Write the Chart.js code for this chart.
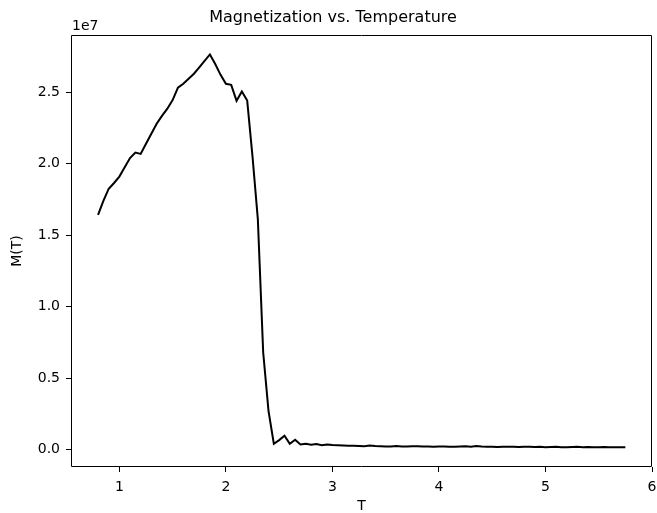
<!DOCTYPE html>
<html>
<head>
<meta charset="utf-8">
<script src="https://cdn.jsdelivr.net/npm/chart.js@4/dist/chart.umd.min.js"></script>
<style>
  html, body { margin: 0; padding: 0; background: #ffffff; }
  #wrap { width: 657px; height: 513px; }
</style>
</head>
<body>
<div id="wrap"><canvas id="c" width="657" height="513"></canvas></div>
<script>
// Temperatures (T)
const temperatures = [
  0.80, 0.85, 0.90, 0.95, 1.00, 1.05, 1.10, 1.15, 1.20, 1.25,
  1.30, 1.35, 1.40, 1.45, 1.50, 1.55, 1.60, 1.65, 1.70, 1.75,
  1.80, 1.85, 1.90, 1.95, 2.00, 2.05, 2.10, 2.15, 2.20, 2.25,
  2.30, 2.35, 2.40, 2.45, 2.50, 2.55, 2.60, 2.65, 2.70, 2.75,
  2.80, 2.85, 2.90, 2.95, 3.00, 3.05, 3.10, 3.15, 3.20, 3.25,
  3.30, 3.35, 3.40, 3.45, 3.50, 3.55, 3.60, 3.65, 3.70, 3.75,
  3.80, 3.85, 3.90, 3.95, 4.00, 4.05, 4.10, 4.15, 4.20, 4.25,
  4.30, 4.35, 4.40, 4.45, 4.50, 4.55, 4.60, 4.65, 4.70, 4.75,
  4.80, 4.85, 4.90, 4.95, 5.00, 5.05, 5.10, 5.15, 5.20, 5.25,
  5.30, 5.35, 5.40, 5.45, 5.50, 5.55, 5.60, 5.65, 5.70, 5.75
];

// Magnetization M(T)
const magnetization = [
  1.642e7, 1.740e7, 1.825e7, 1.865e7, 1.910e7, 1.975e7, 2.040e7, 2.078e7, 2.069e7, 2.140e7,
  2.210e7, 2.280e7, 2.335e7, 2.385e7, 2.445e7, 2.533e7, 2.560e7, 2.595e7, 2.630e7, 2.675e7,
  2.720e7, 2.765e7, 2.698e7, 2.622e7, 2.559e7, 2.552e7, 2.440e7, 2.505e7, 2.442e7, 2.050e7,
  1.610e7, 0.680e7, 0.270e7, 0.040e7, 0.065e7, 0.096e7, 0.040e7, 0.068e7, 0.035e7, 0.040e7,
  0.033e7, 0.038e7, 0.030e7, 0.034e7, 0.031e7, 0.030e7, 0.028e7, 0.025e7, 0.026e7, 0.024e7,
  0.022e7, 0.028e7, 0.024e7, 0.022e7, 0.020e7, 0.021e7, 0.024e7, 0.021e7, 0.020e7, 0.022e7,
  0.023e7, 0.021e7, 0.020e7, 0.019e7, 0.021e7, 0.020e7, 0.019e7, 0.018e7, 0.020e7, 0.022e7,
  0.019e7, 0.024e7, 0.020e7, 0.018e7, 0.019e7, 0.017e7, 0.018e7, 0.019e7, 0.018e7, 0.017e7,
  0.019e7, 0.018e7, 0.017e7, 0.018e7, 0.016e7, 0.017e7, 0.018e7, 0.016e7, 0.015e7, 0.017e7,
  0.018e7, 0.016e7, 0.017e7, 0.016e7, 0.015e7, 0.017e7, 0.016e7, 0.016e7, 0.015e7, 0.016e7
];

const xTickValues = [1, 2, 3, 4, 5, 6];
const yTickValues = [0, 0.5e7, 1.0e7, 1.5e7, 2.0e7, 2.5e7];

const titleText = 'Magnetization vs. Temperature';
const xLabel = 'T';
const yLabel = 'M(T)';
const offsetText = '1e7';

const FONT = 'DejaVu Sans';
const PAD_LEFT = 14;

const boxPlugin = {
  id: 'boxAndOffset',
  afterDraw(chart) {
    const { ctx, chartArea } = chart;
    const l = Math.round(chartArea.left) + 0.5;
    const t = Math.round(chartArea.top) + 0.5;
    const r = Math.round(chartArea.right) - 0.5;
    const b = Math.round(chartArea.bottom) - 0.5;
    ctx.save();
    ctx.strokeStyle = '#000';
    ctx.lineWidth = 1;
    ctx.beginPath();
    ctx.moveTo(l, t); ctx.lineTo(r, t); ctx.lineTo(r, b); ctx.lineTo(l, b); ctx.closePath();
    ctx.stroke();
    ctx.fillStyle = '#000';
    ctx.font = '14px "' + FONT + '"';
    ctx.textAlign = 'left';
    ctx.textBaseline = 'alphabetic';
    ctx.fillText(offsetText, chartArea.left + 1, chartArea.top - 5);
    ctx.restore();
  }
};

new Chart(document.getElementById('c'), {
  type: 'line',
  data: {
    datasets: [{
      data: temperatures.map((t, i) => ({ x: t, y: magnetization[i] })),
      borderColor: '#000000',
      borderWidth: 2,
      pointRadius: 0,
      tension: 0,
      fill: false
    }]
  },
  options: {
    responsive: false,
    animation: false,
    layout: { padding: { left: PAD_LEFT, right: 5, top: 0, bottom: 0 } },
    plugins: {
      legend: { display: false },
      tooltip: { enabled: false },
      title: {
        display: true,
        text: titleText,
        color: '#000',
        font: { family: FONT, size: 16, weight: 'normal', lineHeight: 1.2 },
        padding: { top: 8, bottom: 7.8 }
      }
    },
    scales: {
      x: {
        type: 'linear',
        min: 0.546,
        max: 6.0,
        afterFit(scale) { scale.height = 46; },
        afterBuildTicks(scale) { scale.ticks = xTickValues.map(v => ({ value: v })); },
        ticks: {
          color: '#000',
          font: { family: FONT, size: 14, lineHeight: 2.2 },
          padding: 0,
          maxRotation: 0,
          callback: v => String(v)
        },
        grid: { display: true, drawOnChartArea: false, drawTicks: true, tickLength: 5, color: '#000', tickColor: '#000', tickWidth: 1 },
        border: { display: false },
        title: {
          display: true, text: xLabel, color: '#000',
          font: { family: FONT, size: 14, lineHeight: 1.2 },
          padding: { top: 0, bottom: -1.5 }
        }
      },
      y: {
        type: 'linear',
        min: -0.123e7,
        max: 2.901e7,
        afterFit(scale) { scale.width = 71 - PAD_LEFT; },
        afterBuildTicks(scale) { scale.ticks = yTickValues.map(v => ({ value: v })); },
        ticks: {
          color: '#000',
          font: { family: FONT, size: 14 },
          padding: 6,
          callback: v => (v / 1e7).toFixed(1)
        },
        grid: { display: true, drawOnChartArea: false, drawTicks: true, tickLength: 5, color: '#000', tickColor: '#000', tickWidth: 1 },
        border: { display: false },
        title: {
          display: true, text: yLabel, color: '#000',
          font: { family: FONT, size: 14, lineHeight: 1.2 },
          padding: { top: -5, bottom: 0 }
        }
      }
    }
  },
  plugins: [boxPlugin]
});
</script>
</body>
</html>
